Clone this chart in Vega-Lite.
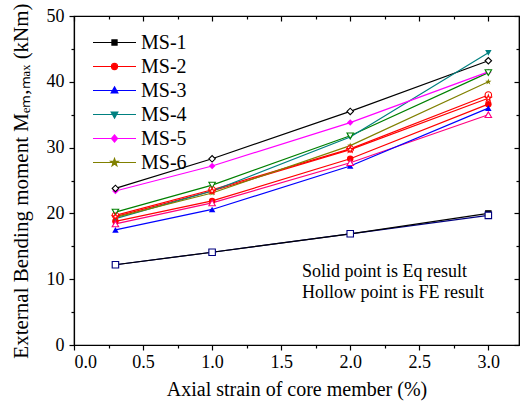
{
  "$schema": "https://vega.github.io/schema/vega-lite/v6.json",
  "width": 445,
  "height": 329,
  "autosize": {"type": "none"},
  "padding": {"left": 74, "top": 16, "right": 1, "bottom": 60},
  "background": "white",
  "config": {
    "view": {"stroke": "black", "strokeWidth": 1.2},
    "font": "Liberation Serif",
    "axis": {
      "labelFont": "Liberation Serif", "labelFontSize": 18, "labelColor": "black",
      "titleFont": "Liberation Serif", "titleFontSize": 20, "titleFontWeight": "normal", "titleColor": "black",
      "domainColor": "black", "domainWidth": 1.2, "tickColor": "black", "tickWidth": 1.2, "grid": false
    },
    "legend": {"labelFont": "Liberation Serif", "labelFontSize": 20, "labelColor": "black"}
  },
  "datasets": {
    "main": [
      {"x": 0.3, "y": 12.2, "line": "MS-1 FE", "type": "FE"},
      {"x": 1.0, "y": 14.1, "line": "MS-1 FE", "type": "FE"},
      {"x": 2.0, "y": 16.9, "line": "MS-1 FE", "type": "FE"},
      {"x": 3.0, "y": 19.7, "line": "MS-1 FE", "type": "FE"},
      {"x": 0.3, "y": 19.7, "line": "MS-2 FE", "type": "FE"},
      {"x": 1.0, "y": 23.6, "line": "MS-2 FE", "type": "FE"},
      {"x": 2.0, "y": 29.8, "line": "MS-2 FE", "type": "FE"},
      {"x": 3.0, "y": 38.0, "line": "MS-2 FE", "type": "FE"},
      {"x": 0.3, "y": 18.4, "line": "MS-3 FE", "type": "FE"},
      {"x": 1.0, "y": 21.6, "line": "MS-3 FE", "type": "FE"},
      {"x": 2.0, "y": 27.7, "line": "MS-3 FE", "type": "FE"},
      {"x": 3.0, "y": 35.0, "line": "MS-3 FE", "type": "FE"},
      {"x": 0.3, "y": 20.2, "line": "MS-4 FE", "type": "FE"},
      {"x": 1.0, "y": 24.3, "line": "MS-4 FE", "type": "FE"},
      {"x": 2.0, "y": 31.8, "line": "MS-4 FE", "type": "FE"},
      {"x": 3.0, "y": 41.4, "line": "MS-4 FE", "type": "FE"},
      {"x": 0.3, "y": 23.8, "line": "MS-5 FE", "type": "FE"},
      {"x": 1.0, "y": 28.3, "line": "MS-5 FE", "type": "FE"},
      {"x": 2.0, "y": 35.5, "line": "MS-5 FE", "type": "FE"},
      {"x": 3.0, "y": 43.2, "line": "MS-5 FE", "type": "FE"},
      {"x": 0.3, "y": 19.5, "line": "MS-6 FE", "type": "FE"},
      {"x": 1.0, "y": 23.4, "line": "MS-6 FE", "type": "FE"},
      {"x": 2.0, "y": 29.7, "line": "MS-6 FE", "type": "FE"},
      {"x": 3.0, "y": 37.5, "line": "MS-6 FE", "type": "FE"},
      {"x": 0.3, "y": 12.2, "line": "MS-1", "type": "Eq"},
      {"x": 1.0, "y": 14.1, "line": "MS-1", "type": "Eq"},
      {"x": 2.0, "y": 16.9, "line": "MS-1", "type": "Eq"},
      {"x": 3.0, "y": 20.0, "line": "MS-1", "type": "Eq"},
      {"x": 0.3, "y": 18.8, "line": "MS-2", "type": "Eq"},
      {"x": 1.0, "y": 21.9, "line": "MS-2", "type": "Eq"},
      {"x": 2.0, "y": 28.3, "line": "MS-2", "type": "Eq"},
      {"x": 3.0, "y": 36.6, "line": "MS-2", "type": "Eq"},
      {"x": 0.3, "y": 17.5, "line": "MS-3", "type": "Eq"},
      {"x": 1.0, "y": 20.6, "line": "MS-3", "type": "Eq"},
      {"x": 2.0, "y": 27.2, "line": "MS-3", "type": "Eq"},
      {"x": 3.0, "y": 36.0, "line": "MS-3", "type": "Eq"},
      {"x": 0.3, "y": 19.2, "line": "MS-4", "type": "Eq"},
      {"x": 1.0, "y": 23.4, "line": "MS-4", "type": "Eq"},
      {"x": 2.0, "y": 31.6, "line": "MS-4", "type": "Eq"},
      {"x": 3.0, "y": 44.4, "line": "MS-4", "type": "Eq"},
      {"x": 0.3, "y": 23.4, "line": "MS-5", "type": "Eq"},
      {"x": 1.0, "y": 27.2, "line": "MS-5", "type": "Eq"},
      {"x": 2.0, "y": 33.8, "line": "MS-5", "type": "Eq"},
      {"x": 3.0, "y": 41.5, "line": "MS-5", "type": "Eq"},
      {"x": 0.3, "y": 19.4, "line": "MS-6", "type": "Eq"},
      {"x": 1.0, "y": 23.1, "line": "MS-6", "type": "Eq"},
      {"x": 2.0, "y": 30.3, "line": "MS-6", "type": "Eq"},
      {"x": 3.0, "y": 40.0, "line": "MS-6", "type": "Eq"}
    ],
    "notes": [
      {"x": 1.65, "y": 11.1, "text": "Solid point is Eq result"},
      {"x": 1.65, "y": 7.9, "text": "Hollow point is FE result"}
    ]
  },
  "resolve": {
    "scale": {"shape": "independent", "fill": "independent", "stroke": "independent"},
    "axis": {"x": "independent", "y": "independent"}
  },
  "layer": [
    {
      "data": {"name": "main"},
      "mark": {"type": "line", "strokeWidth": 1.2},
      "encoding": {
        "x": {"field": "x", "type": "quantitative",
          "scale": {"domain": [0, 3.222], "nice": false, "zero": false},
          "axis": {"orient": "bottom", "values": [0, 0.25, 0.5, 0.75, 1, 1.25, 1.5, 1.75, 2, 2.25, 2.5, 2.75, 3],
            "labelExpr": "datum.value % 0.5 === 0 ? format(datum.value, '.1f') : ''",
            "tickSize": {"condition": {"test": "datum.value % 0.5 !== 0", "value": 3}, "value": 5},
            "labelPadding": 3, "title": "Axial strain of core member (%)", "titlePadding": 8}},
        "y": {"field": "y", "type": "quantitative",
          "scale": {"domain": [0, 50], "nice": false},
          "axis": {"orient": "left", "values": [0, 5, 10, 15, 20, 25, 30, 35, 40, 45, 50],
            "labelExpr": "datum.value % 10 === 0 ? datum.label : ''",
            "tickSize": {"condition": {"test": "datum.value % 10 !== 0", "value": 3}, "value": 5},
            "labelPadding": 5, "title": "External Bending moment Mₑₘ,ₘₐₓ (kNm)", "titleFontSize": 21, "titlePadding": 15}},
        "color": {"field": "line", "type": "nominal", "legend": null,
          "scale": {
            "domain": ["MS-1 FE", "MS-2 FE", "MS-3 FE", "MS-4 FE", "MS-5 FE", "MS-6 FE", "MS-1", "MS-2", "MS-3", "MS-4", "MS-5", "MS-6"],
            "range": ["#000080", "#ff0000", "#ff0080", "#008000", "#000000", "#ff0000", "#000000", "#ff0000", "#0000ff", "#008080", "#ff00ff", "#808000"]}}
      }
    },
    {
      "data": {"name": "main"},
      "transform": [{"filter": "datum.type === 'Eq'"}],
      "mark": {"type": "point", "filled": true, "opacity": 1, "size": 42},
      "encoding": {
        "x": {"field": "x", "type": "quantitative", "axis": null},
        "y": {"field": "y", "type": "quantitative", "axis": null},
        "color": {"field": "line", "type": "nominal", "legend": null},
        "shape": {"field": "line", "type": "nominal", "legend": null,
          "scale": {"domain": ["MS-1", "MS-2", "MS-3", "MS-4", "MS-5", "MS-6"],
            "range": ["square", "circle", "triangle-up", "triangle-down", "diamond",
              "M0,-1L0.235,-0.324L0.951,-0.309L0.38,0.124L0.588,0.809L0,0.4L-0.588,0.809L-0.38,0.124L-0.951,-0.309L-0.235,-0.324Z"]}}
      }
    },
    {
      "data": {"name": "main"},
      "transform": [{"filter": "datum.type === 'FE'"}],
      "mark": {"type": "point", "filled": false, "fill": "white", "fillOpacity": 1, "opacity": 1, "strokeWidth": 1.1, "size": 42},
      "encoding": {
        "x": {"field": "x", "type": "quantitative",
          "axis": {"orient": "top", "values": [0, 0.25, 0.5, 0.75, 1, 1.25, 1.5, 1.75, 2, 2.25, 2.5, 2.75, 3], "labels": false,
            "tickSize": {"condition": {"test": "datum.value % 0.5 !== 0", "value": -3}, "value": -5}, "title": null}},
        "y": {"field": "y", "type": "quantitative",
          "axis": {"orient": "right", "values": [0, 5, 10, 15, 20, 25, 30, 35, 40, 45, 50], "labels": false,
            "tickSize": {"condition": {"test": "datum.value % 10 !== 0", "value": -3}, "value": -5}, "title": null}},
        "color": {"field": "line", "type": "nominal", "legend": null},
        "shape": {"field": "line", "type": "nominal", "legend": null,
          "scale": {"domain": ["MS-1 FE", "MS-2 FE", "MS-3 FE", "MS-4 FE", "MS-5 FE", "MS-6 FE"],
            "range": ["square", "circle", "triangle-up", "triangle-down", "diamond",
              "M0,-1L0.235,-0.324L0.951,-0.309L0.38,0.124L0.588,0.809L0,0.4L-0.588,0.809L-0.38,0.124L-0.951,-0.309L-0.235,-0.324Z"]}}
      }
    },
    {
      "data": {"name": "main"},
      "transform": [{"filter": "datum.type === 'Eq'"}],
      "mark": {"type": "point", "filled": true, "opacity": 0},
      "encoding": {
        "x": {"field": "x", "type": "quantitative", "axis": null},
        "y": {"field": "y", "type": "quantitative", "axis": null},
        "fill": {"field": "line", "type": "nominal",
          "scale": {"domain": ["MS-1", "MS-2", "MS-3", "MS-4", "MS-5", "MS-6"],
            "range": ["#000000", "#ff0000", "#0000ff", "#008080", "#ff00ff", "#808000"]},
          "legend": {"title": null, "orient": "none", "legendX": 30, "legendY": 16, "symbolSize": 361, "symbolStrokeWidth": 1.2,
            "symbolOpacity": 1, "labelFontSize": 20, "labelOffset": 16, "rowPadding": 3, "padding": 0}},
        "stroke": {"field": "line", "type": "nominal",
          "scale": {"domain": ["MS-1", "MS-2", "MS-3", "MS-4", "MS-5", "MS-6"],
            "range": ["#000000", "#ff0000", "#0000ff", "#008080", "#ff00ff", "#808000"]},
          "legend": {"title": null, "orient": "none", "legendX": 30, "legendY": 16, "symbolSize": 361, "symbolStrokeWidth": 1.2,
            "symbolOpacity": 1, "labelFontSize": 20, "labelOffset": 16, "rowPadding": 3, "padding": 0}},
        "shape": {"field": "line", "type": "nominal",
          "scale": {"domain": ["MS-1", "MS-2", "MS-3", "MS-4", "MS-5", "MS-6"],
            "range": [
              "M-2.26,0H2.26M-0.27,-0.27H0.27V0.27H-0.27Z",
              "M-2.26,0H2.26M0.32,0A0.32,0.32 0 1,1 -0.32,0A0.32,0.32 0 1,1 0.32,0Z",
              "M-2.26,0H2.26M0,-0.38L0.35,0.26H-0.35Z",
              "M-2.26,0H2.26M0,0.38L0.35,-0.26H-0.35Z",
              "M-2.26,0H2.26M0,-0.38L0.32,0L0,0.38L-0.32,0Z",
              "M-2.26,0H2.26M0,-0.42L0.099,-0.136L0.4,-0.13L0.16,0.052L0.247,0.34L0,0.168L-0.247,0.34L-0.16,0.052L-0.4,-0.13L-0.099,-0.136Z"
            ]},
          "legend": {"title": null, "orient": "none", "legendX": 30, "legendY": 16, "symbolSize": 361, "symbolStrokeWidth": 1.2,
            "symbolOpacity": 1, "labelFontSize": 20, "labelOffset": 16, "rowPadding": 3, "padding": 0}}
      }
    },
    {
      "data": {"name": "notes"},
      "mark": {"type": "text", "align": "left", "baseline": "middle", "font": "Liberation Serif", "fontSize": 18, "color": "black"},
      "encoding": {
        "x": {"field": "x", "type": "quantitative", "axis": null},
        "y": {"field": "y", "type": "quantitative", "axis": null},
        "text": {"field": "text"}
      }
    }
  ]
}
